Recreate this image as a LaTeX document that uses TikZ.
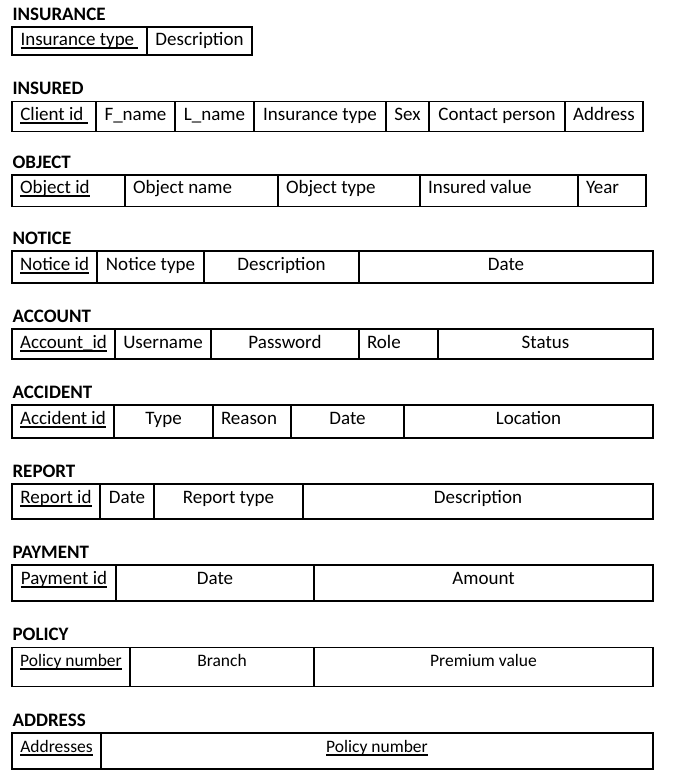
\documentclass[tikz,border=0pt]{standalone}
\usepackage{fontspec}
\setmainfont{Carlito}
\usetikzlibrary{positioning}
\newsavebox{\keybox}
\newcommand{\keyline}[1]{\sbox{\keybox}{#1}\rlap{\rule[-3.5pt]{\wd\keybox}{2pt}}\usebox{\keybox}}
\tikzset{%
  cellfont/.style = {font = \fontsize{19}{23}\selectfont},
  cell/.style     = {draw, rectangle, cellfont, minimum width = #1,
    inner xsep = 4pt, inner ysep = 0pt, outer sep = 0pt,
    text height = 19pt}, % centred text
  lcell/.style    = {draw, rectangle, cellfont, text width = #1, align = flush left,
    inner xsep = 8pt, inner ysep = 0pt, outer sep = 0pt,
    text height = 19pt}, % left text
  title/.style    = {anchor = base west, inner sep = 0pt,
    font = \fontsize{19}{23}\selectfont\bfseries}
}

\begin{document}
\begin{tikzpicture}[x=1pt, y=-1pt, line width=1.1pt]

	\useasboundingbox (0,0) rectangle (672,783);

	% INSURANCE
	\begin{scope}[text depth = 9pt]
	\draw node at (12,27) [cell = 135, anchor = north west] (instype) {\keyline{Insurance type\ }};
	\draw node [cell = 105, right = 0pt of instype] (insdesc) {Description};
	\end{scope}
	\draw node at ([yshift = 6.5pt] instype.north west) [title] (insurance) {INSURANCE};

	% INSURED
	\begin{scope}[text depth = 11pt]
	\draw node at (12,101.5) [cell = 84, anchor = north west] (clientid) {\keyline{Client id\ }};
	\draw node [cell = 79, right = 0pt of clientid] (fname) {F\_name};
	\draw node [cell = 79, right = 0pt of fname] (lname) {L\_name};
	\draw node [cell = 132, right = 0pt of lname] (cinstype) {Insurance type};
	\draw node [cell = 43, right = 0pt of cinstype] (sex) {Sex};
	\draw node [cell = 136, right = 0pt of sex] (contact) {Contact person};
	\draw node [cell = 78, right = 0pt of contact] (caddress) {Address};
	\end{scope}
	\draw node at ([yshift = 6.5pt] clientid.north west) [title] (insured) {INSURED};

	% OBJECT
	\begin{scope}[text depth = 12.7pt]
	\draw node at (12,175) [lcell = 97, anchor = north west] (objid) {\keyline{Object id}};
	\draw node [lcell = 137, right = 0pt of objid] (objname) {Object name};
	\draw node [lcell = 126, right = 0pt of objname] (objtype) {Object type};
	\draw node [lcell = 142, right = 0pt of objtype] (objvalue) {Insured value};
	\draw node [lcell = 52, right = 0pt of objvalue] (objyear) {Year};
	\end{scope}
	\draw node at ([yshift = 6.5pt] objid.north west) [title] (object) {OBJECT};

	% NOTICE
	\begin{scope}[text depth = 13pt]
	\draw node at (12,251) [cell = 85, anchor = north west] (noticeid) {\keyline{Notice id}};
	\draw node [cell = 107, right = 0pt of noticeid] (noticetype) {Notice type};
	\draw node [cell = 155, right = 0pt of noticetype] (noticedesc) {Description};
	\draw node [cell = 294, right = 0pt of noticedesc] (noticedate) {Date};
	\end{scope}
	\draw node at ([yshift = 6.5pt] noticeid.north west) [title] (notice) {NOTICE};

	% ACCOUNT
	\begin{scope}[text depth = 11pt]
	\draw node at (12,329) [cell = 103, anchor = north west] (accountid) {\keyline{Account\_id}};
	\draw node [cell = 96, right = 0pt of accountid] (username) {Username};
	\draw node [cell = 148, right = 0pt of username] (password) {Password};
	\draw node [lcell = 63, right = 0pt of password] (role) {Role};
	\draw node [cell = 215, right = 0pt of role] (status) {Status};
	\end{scope}
	\draw node at ([yshift = 6.5pt] accountid.north west) [title] (account) {ACCOUNT};

	% ACCIDENT
	\begin{scope}[text depth = 14pt]
	\draw node at (12,405) [cell = 102, anchor = north west] (accidentid) {\keyline{Accident id}};
	\draw node [cell = 99, right = 0pt of accidentid] (acctype) {Type};
	\draw node [lcell = 62, right = 0pt of acctype] (reason) {Reason};
	\draw node [cell = 113, right = 0pt of reason] (accdate) {Date};
	\draw node [cell = 249, right = 0pt of accdate] (location) {Location};
	\end{scope}
	\draw node at ([yshift = 6.5pt] accidentid.north west) [title] (accident) {ACCIDENT};

	% REPORT
	\begin{scope}[text depth = 16pt]
	\draw node at (12,484) [cell = 88, anchor = north west] (reportid) {\keyline{Report id}};
	\draw node [cell = 54, right = 0pt of reportid] (repdate) {Date};
	\draw node [cell = 149, right = 0pt of repdate] (reptype) {Report type};
	\draw node [cell = 350, right = 0pt of reptype] (repdesc) {Description};
	\end{scope}
	\draw node at ([yshift = 6.5pt] reportid.north west) [title] (report) {REPORT};

	% PAYMENT
	\begin{scope}[text depth = 17pt]
	\draw node at (12,565) [cell = 104, anchor = north west] (paymentid) {\keyline{Payment id}};
	\draw node [cell = 198, right = 0pt of paymentid] (paydate) {Date};
	\draw node [cell = 339, right = 0pt of paydate] (amount) {Amount};
	\end{scope}
	\draw node at ([yshift = 6.5pt] paymentid.north west) [title] (payment) {PAYMENT};

	% POLICY and ADDRESS, smaller text
	\begin{scope}[cellfont/.style = {font = \fontsize{17.5}{21}\selectfont}]
	\begin{scope}[text depth = 20.4pt]
	\draw node at (12,647.3) [cell = 118, anchor = north west] (policynum) {\keyline{Policy number}};
	\draw node [cell = 184, right = 0pt of policynum] (branch) {Branch};
	\draw node [cell = 339, right = 0pt of branch] (premium) {Premium value};
	\end{scope}
	\begin{scope}[text depth = 17pt]
	\draw node at (12,733) [cell = 89, anchor = north west] (addresses) {\keyline{Addresses}};
	\draw node [cell = 552, right = 0pt of addresses] (addpolicy) {\keyline{Policy number}};
	\end{scope}
	\end{scope}
	\draw node at ([yshift = 6.5pt] policynum.north west) [title] (policy) {POLICY};
	\draw node at ([yshift = 6.5pt] addresses.north west) [title] (address) {ADDRESS};

\end{tikzpicture}
\end{document}
